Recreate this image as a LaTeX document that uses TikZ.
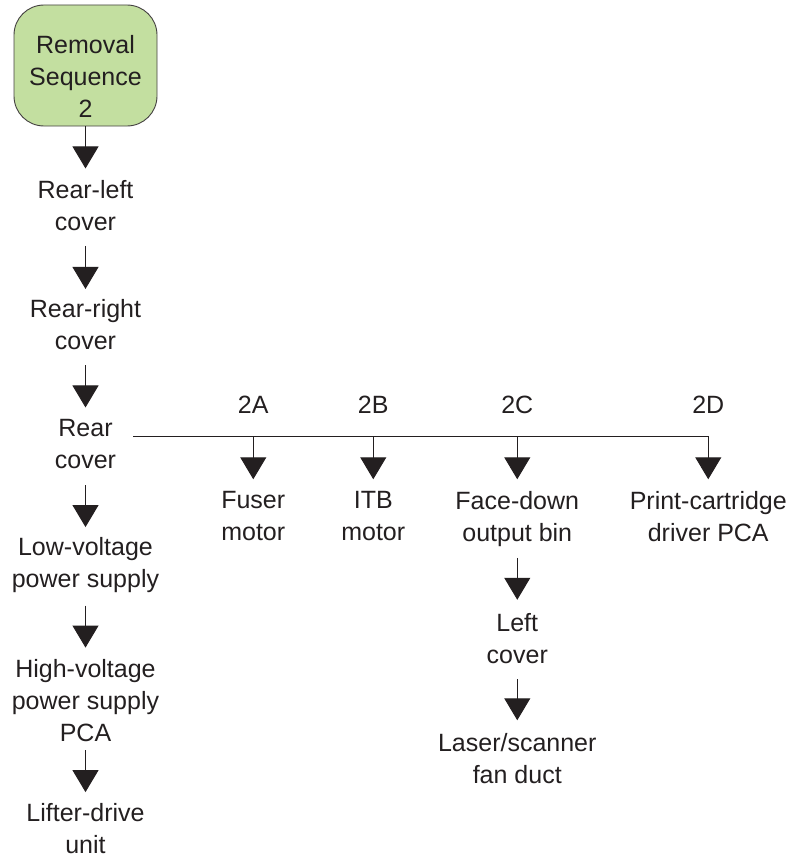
\documentclass[tikz,border=0pt]{standalone}
\usepackage{fontspec}
\setmainfont{Liberation Sans}
\usetikzlibrary{arrows.meta, positioning}

\definecolor{seqgreen}{HTML}{C3DFA0}
\definecolor{ink}{HTML}{231F20}

\tikzset{
  part/.style = {align=center, inner sep=0pt, text depth=0pt, text=ink,
                 font=\fontsize{25}{32}\selectfont},
  seqbox/.style = {part, draw=ink!85, fill=seqgreen, rounded corners=30pt,
                   minimum width=143pt, minimum height=121pt, line width=0.9pt},
  flow/.style = {color=ink, line width=1pt, -{Triangle[width=26pt, length=22pt]},
                 shorten <=16pt, shorten >=12pt},
}

\begin{document}
\begin{tikzpicture}[x=1pt, y=-1pt]
  \useasboundingbox (0,0) rectangle (793,859);

  % main removal chain
  \node[seqbox, text height=103pt] (seq2) at (85.5,65.5) {Removal\\Sequence\\2};
  \node[part] [below=54pt of seq2] (rearleft) {Rear-left\\cover};
  \node[part] [below=68pt of rearleft] (rearright) {Rear-right\\cover};
  \node[part] [below=70pt of rearright] (rear) {Rear\\cover};
  \node[part] [below=68pt of rear] (lvps) {Low-voltage\\power supply};
  \node[part] [below=72pt of lvps] (hvps) {High-voltage\\power supply\\PCA};
  \node[part] [below=61pt of hvps] (lifter) {Lifter-drive\\unit};

  % branches off the rear cover
  \coordinate (bus) at ([xshift=17pt, yshift=8pt]rear.east);
  \coordinate[right=120pt of bus] (tapA);
  \coordinate[right=120pt of tapA] (tapB);
  \coordinate[right=144pt of tapB] (tapC);
  \coordinate[right=191pt of tapC] (tapD);

  \node[part] [above=23pt of tapA] (lblA) {2A};
  \node[part] [above=23pt of tapB] (lblB) {2B};
  \node[part] [above=23pt of tapC] (lblC) {2C};
  \node[part] [above=23pt of tapD] (lblD) {2D};

  \node[part] [below=55pt of tapA] (fuser) {Fuser\\motor};
  \node[part] [below=55pt of tapB] (itb) {ITB\\motor};
  \node[part] [below=55pt of tapC] (facedown) {Face-down\\output bin};
  \node[part] [below=55pt of tapD] (pcdriver) {Print-cartridge\\driver PCA};
  \node[part] [below=71pt of facedown] (leftcover) {Left\\cover};
  \node[part] [below=70pt of leftcover] (laser) {Laser/scanner\\fan duct};

  \path[flow]
    (seq2) edge [shorten <=0pt] (rearleft)
    (rearleft) edge [shorten <=15pt, shorten >=10pt] (rearright)
    (rearright) edge (rear)
    (rear) edge [shorten >=10pt] (lvps)
    (lvps) edge [shorten <=18pt] (hvps)
    (hvps) edge [shorten <=8pt, shorten >=11pt] (lifter)
    (tapA) edge [shorten <=0pt] (fuser)
    (tapB) edge [shorten <=0pt] (itb)
    (tapC) edge [shorten <=0pt] (facedown)
    (facedown) edge [shorten >=13pt] (leftcover)
    (leftcover) edge [shorten >=13pt] (laser);
  \draw[flow, shorten <=0pt] (bus) -| (pcdriver);
\end{tikzpicture}
\end{document}
